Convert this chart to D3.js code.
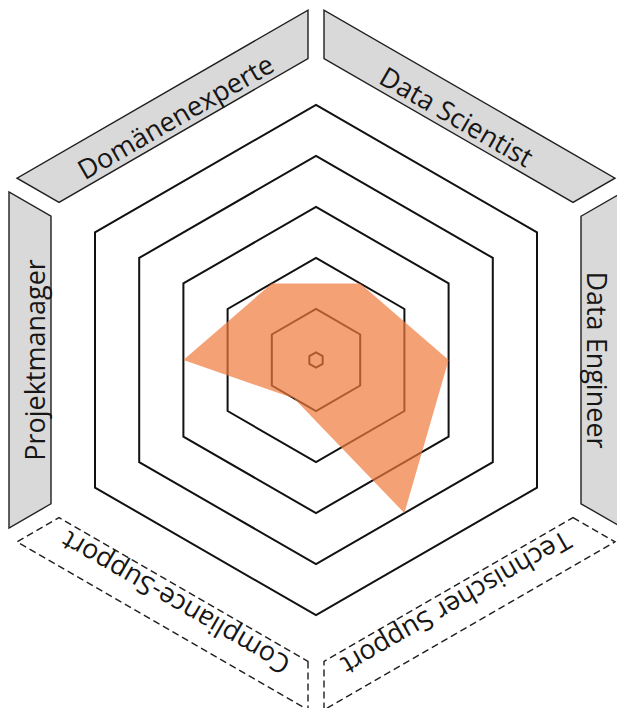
<!DOCTYPE html>
<html>
<head>
<meta charset="utf-8">
<script src="https://cdn.jsdelivr.net/npm/d3@7"></script>
<style>
  html, body { margin: 0; padding: 0; background: #ffffff; }
  svg { display: block; }
</style>
</head>
<body>
<svg id="chart" width="617" height="708"></svg>
<script>
// Roles around the hexagon, with the direction of each axis (degrees, screen space)
const roles  = ["Data Engineer", "Data Scientist", "Domänenexperte", "Projektmanager", "Compliance-Support", "Technischer Support"];
const angles = [0, -60, -120, 180, 120, 60];
// Skill level per role (0–5)
const levels = [3, 2, 2, 3, 1, 4];
// Grid rings
const ringLevels = [0.15, 1, 2, 3, 4, 5];
// Roles whose label band is drawn as an open (dashed) frame
const openRoles = ["Compliance-Support", "Technischer Support"];

const W = 617, H = 708;
const cx = 316, cy = 360;
const svg = d3.select("#chart");
const g = svg.append("g").attr("transform", `translate(${cx},${cy})`);

const rad = d => d * Math.PI / 180;
const cos30 = Math.cos(rad(30));

// value -> perpendicular distance from the centre to the hexagon side
const r = d3.scaleLinear().domain([0, 5]).range([0, 221]);

// ---- label bands outside the outer hexagon ----
const bandIn = 265, bandOut = 307, gap = 8;
const half = d => d * Math.tan(rad(30)) - gap / cos30;
const bands = roles.map((role, i) => {
  const th = rad(angles[i]);
  const n = [Math.cos(th), Math.sin(th)], t = [-Math.sin(th), Math.cos(th)];
  const P = (d, s) => [d * n[0] + s * t[0], d * n[1] + s * t[1]];
  return {
    role, angle: angles[i],
    pts: [P(bandIn, -half(bandIn)), P(bandOut, -half(bandOut)), P(bandOut, half(bandOut)), P(bandIn, half(bandIn))]
  };
});

g.selectAll("path.band").data(bands).join("path")
  .attr("class", "band")
  .attr("d", d => "M" + d.pts.map(p => p.join(",")).join("L") + "Z")
  .attr("fill", d => openRoles.includes(d.role) ? "#ffffff" : "#d9d9d9")
  .attr("stroke", "#1f1f1f")
  .attr("stroke-width", 1.4)
  .attr("stroke-dasharray", d => openRoles.includes(d.role) ? "7,4" : null);

const textBase = 271;
g.selectAll("text.role").data(bands).join("text")
  .attr("class", "role")
  .attr("transform", d => {
    const th = rad(d.angle);
    return `translate(${textBase * Math.cos(th)},${textBase * Math.sin(th)}) rotate(${d.angle + 90})`;
  })
  .attr("text-anchor", "middle")
  .attr("font-family", "'Open Sans', sans-serif")
  .attr("font-size", 27)
  .attr("fill", "#161616")
  .text(d => d.role);

// ---- hexagonal grid rings ----
const hexVertexAngles = d3.range(6).map(k => rad(k * 60)); // radial angles of the vertices (0 = top)
const ringLine = d3.lineRadial()
  .angle(d => d.a)
  .radius(d => d.r)
  .curve(d3.curveLinearClosed);

g.selectAll("path.ring").data(ringLevels).join("path")
  .attr("class", "ring")
  .attr("d", v => ringLine(hexVertexAngles.map(a => ({ a, r: r(v) / cos30 }))))
  .attr("fill", "none")
  .attr("stroke", "#111111")
  .attr("stroke-width", 2);

// ---- profile polygon ----
const profile = d3.lineRadial()
  .angle((d, i) => rad(angles[i] + 90))
  .radius(d => r(d))
  .curve(d3.curveLinearClosed);

g.append("path")
  .attr("d", profile(levels))
  .attr("fill", "#EF793B")
  .attr("fill-opacity", 0.7)
  .attr("stroke", "none");
</script>
</body>
</html>
